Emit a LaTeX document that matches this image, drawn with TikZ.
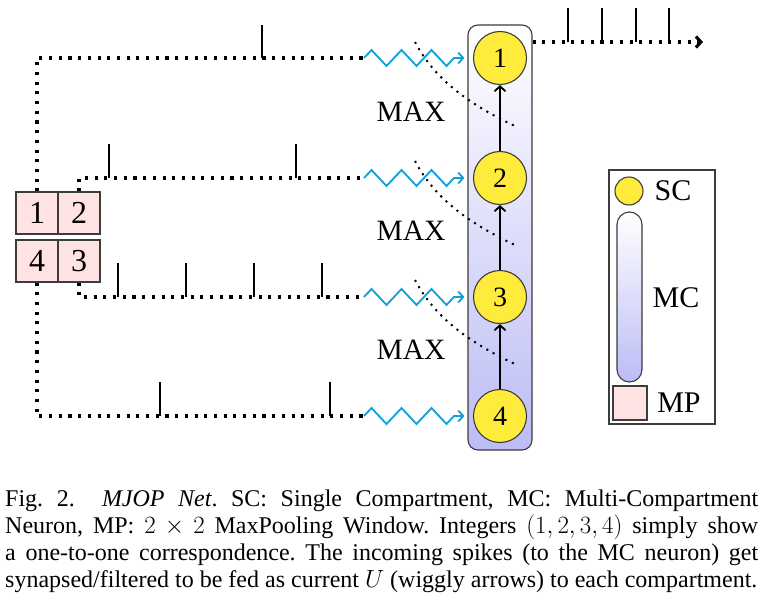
\documentclass[tikz,border=0pt]{standalone}
\usepackage{fontspec}
\setmainfont{Liberation Serif}
\usetikzlibrary{decorations.pathmorphing,arrows.meta}
\definecolor{scyel}{RGB}{255,235,59}
\definecolor{mpink}{RGB}{255,226,226}
\definecolor{wig}{RGB}{14,160,214}
\definecolor{mcblue}{RGB}{188,188,246}
\definecolor{edg}{RGB}{60,60,60}
\begin{document}
\begin{tikzpicture}[x=1pt,y=-1pt,
  spk/.style={line width=3.1pt, dash pattern=on 3.1pt off 6.6pt},
  spike/.style={line width=1.8pt},
  wiggle/.style={draw=wig, line width=1.8pt, decorate,
     decoration={zigzag, segment length=30pt, amplitude=8pt, post length=10pt},
     -{Straight Barb[length=5pt,width=11pt]}},
  maxd/.style={line width=2pt, dash pattern=on 2pt off 5.2pt},
  circ/.style={circle, draw=edg, line width=1.1pt, fill=scyel, minimum size=53pt,
     inner sep=0pt, font=\fontsize{28}{30}\selectfont},
  mpbox/.style={draw=edg, line width=1.1pt, fill=mpink, minimum width=42pt,
     minimum height=42pt, inner sep=0pt, font=\fontsize{32}{34}\selectfont},
  updraw/.style={line width=1.8pt, -{Straight Barb[length=5pt,width=11pt]}},
  lbl/.style={inner sep=0pt, font=\fontsize{30}{32}\selectfont},
  maxl/.style={inner sep=0pt, font=\fontsize{29.5}{31}\selectfont}]
\useasboundingbox (0,0) rectangle (763,597);

% multi-compartment column
\node[draw=edg, line width=1.1pt, rounded corners=10pt, top color=white,
      bottom color=mcblue, minimum width=64pt, minimum height=425pt, inner sep=0pt]
      (col) at (500,237.5) {};

% MAX dotted curves
\draw[maxd] (415,42) .. controls (435,80) and (470,105) .. (517,127);
\draw[maxd] (415,161) .. controls (435,199) and (470,224) .. (517,246);
\draw[maxd] (415,280) .. controls (435,318) and (470,343) .. (517,365);
\node[maxl] (m1) at (411,112) {MAX};
\node[maxl] (m2) at (411,231) {MAX};
\node[maxl] (m3) at (411,350) {MAX};

% compartments
\node[circ] (s1) at (500,58) {1};
\node[circ] (s2) at (500,178) {2};
\node[circ] (s3) at (500,297) {3};
\node[circ] (s4) at (500,416) {4};
\draw[updraw] (s4) -- (s3);
\draw[updraw] (s3) -- (s2);
\draw[updraw] (s2) -- (s1);

% max pooling window
\node[mpbox] (b1) at (37,213) {1};
\node[mpbox] (b2) at (79,213) {2};
\node[mpbox] (b4) at (37,261) {4};
\node[mpbox] (b3) at (79,261) {3};

% spike train lines
\coordinate (w1) at (364,58);
\coordinate (w2) at (364,178);
\coordinate (w3) at (364,297);
\coordinate (w4) at (364,416);
\draw[spk] (b1.north) |- (w1);
\draw[spk] (b2.north) |- (w2);
\draw[spk] (b3.south) |- (w3);
\draw[spk] (b4.south) |- (w4);

% spikes
\draw[spike] (262,58) -- (262,25);
\draw[spike] (109,178) -- (109,144);
\draw[spike] (296,178) -- (296,144);
\foreach \x in {118,186,254,322} \draw[spike] (\x,297) -- (\x,263);
\draw[spike] (160,416) -- (160,382);
\draw[spike] (330,416) -- (330,382);

% wiggly current arrows
\draw[wiggle] (w1) -- ([xshift=-8.5pt]s1.west);
\draw[wiggle] (w2) -- ([xshift=-8.5pt]s2.west);
\draw[wiggle] (w3) -- ([xshift=-8.5pt]s3.west);
\draw[wiggle] (w4) -- ([xshift=-8.5pt]s4.west);

% output spike train
\coordinate (o1) at (col.east |- 0,42);
\coordinate (o2) at (703,42);
\draw[spk, -{Straight Barb[length=5pt,width=11pt]}] (o1) -- (o2);
\foreach \x in {568,602,636,669} \draw[spike] (\x,42) -- (\x,8);

% legend
\node[draw=edg, line width=1.1pt, minimum width=106pt, minimum height=254pt,
      inner sep=0pt] (leg) at (662,297) {};
\node[circle, draw=edg, line width=1.1pt, fill=scyel, minimum size=28pt,
      inner sep=0pt] (lsc) at (629,191) {};
\node[lbl] (tsc) at (673,191) {SC};
\node[draw=edg, line width=1.1pt, rounded corners=12.5pt, top color=white,
      bottom color=mcblue, minimum width=25pt, minimum height=170pt,
      inner sep=0pt] (lmc) at (629.5,297) {};
\node[lbl] (tmc) at (676,298) {MC};
\node[draw=edg, line width=1.1pt, fill=mpink, minimum width=34pt,
      minimum height=34pt, inner sep=0pt] (lmp) at (630,403) {};
\node[lbl] (tmp) at (679,403) {MP};

% caption
\node[anchor=base west, text width=753pt, inner sep=0pt, align=justify,
      font=\fontsize{24}{27}\selectfont] (cap) at (5,506)
{\frenchspacing\parfillskip=0pt\hyphenpenalty=10000\tolerance=9999
Fig.~2.\ \ \textit{MJOP Net}. SC: Single Compartment, MC: Multi-Compartment\linebreak
Neuron, MP: $2\times 2$ MaxPooling Window. Integers $(1,2,3,4)$ simply show\linebreak
a one-to-one correspondence. The incoming spikes (to the MC neuron) get\linebreak
synapsed/filtered to be fed as current $U$ (wiggly arrows) to each compartment.};
\end{tikzpicture}
\end{document}
